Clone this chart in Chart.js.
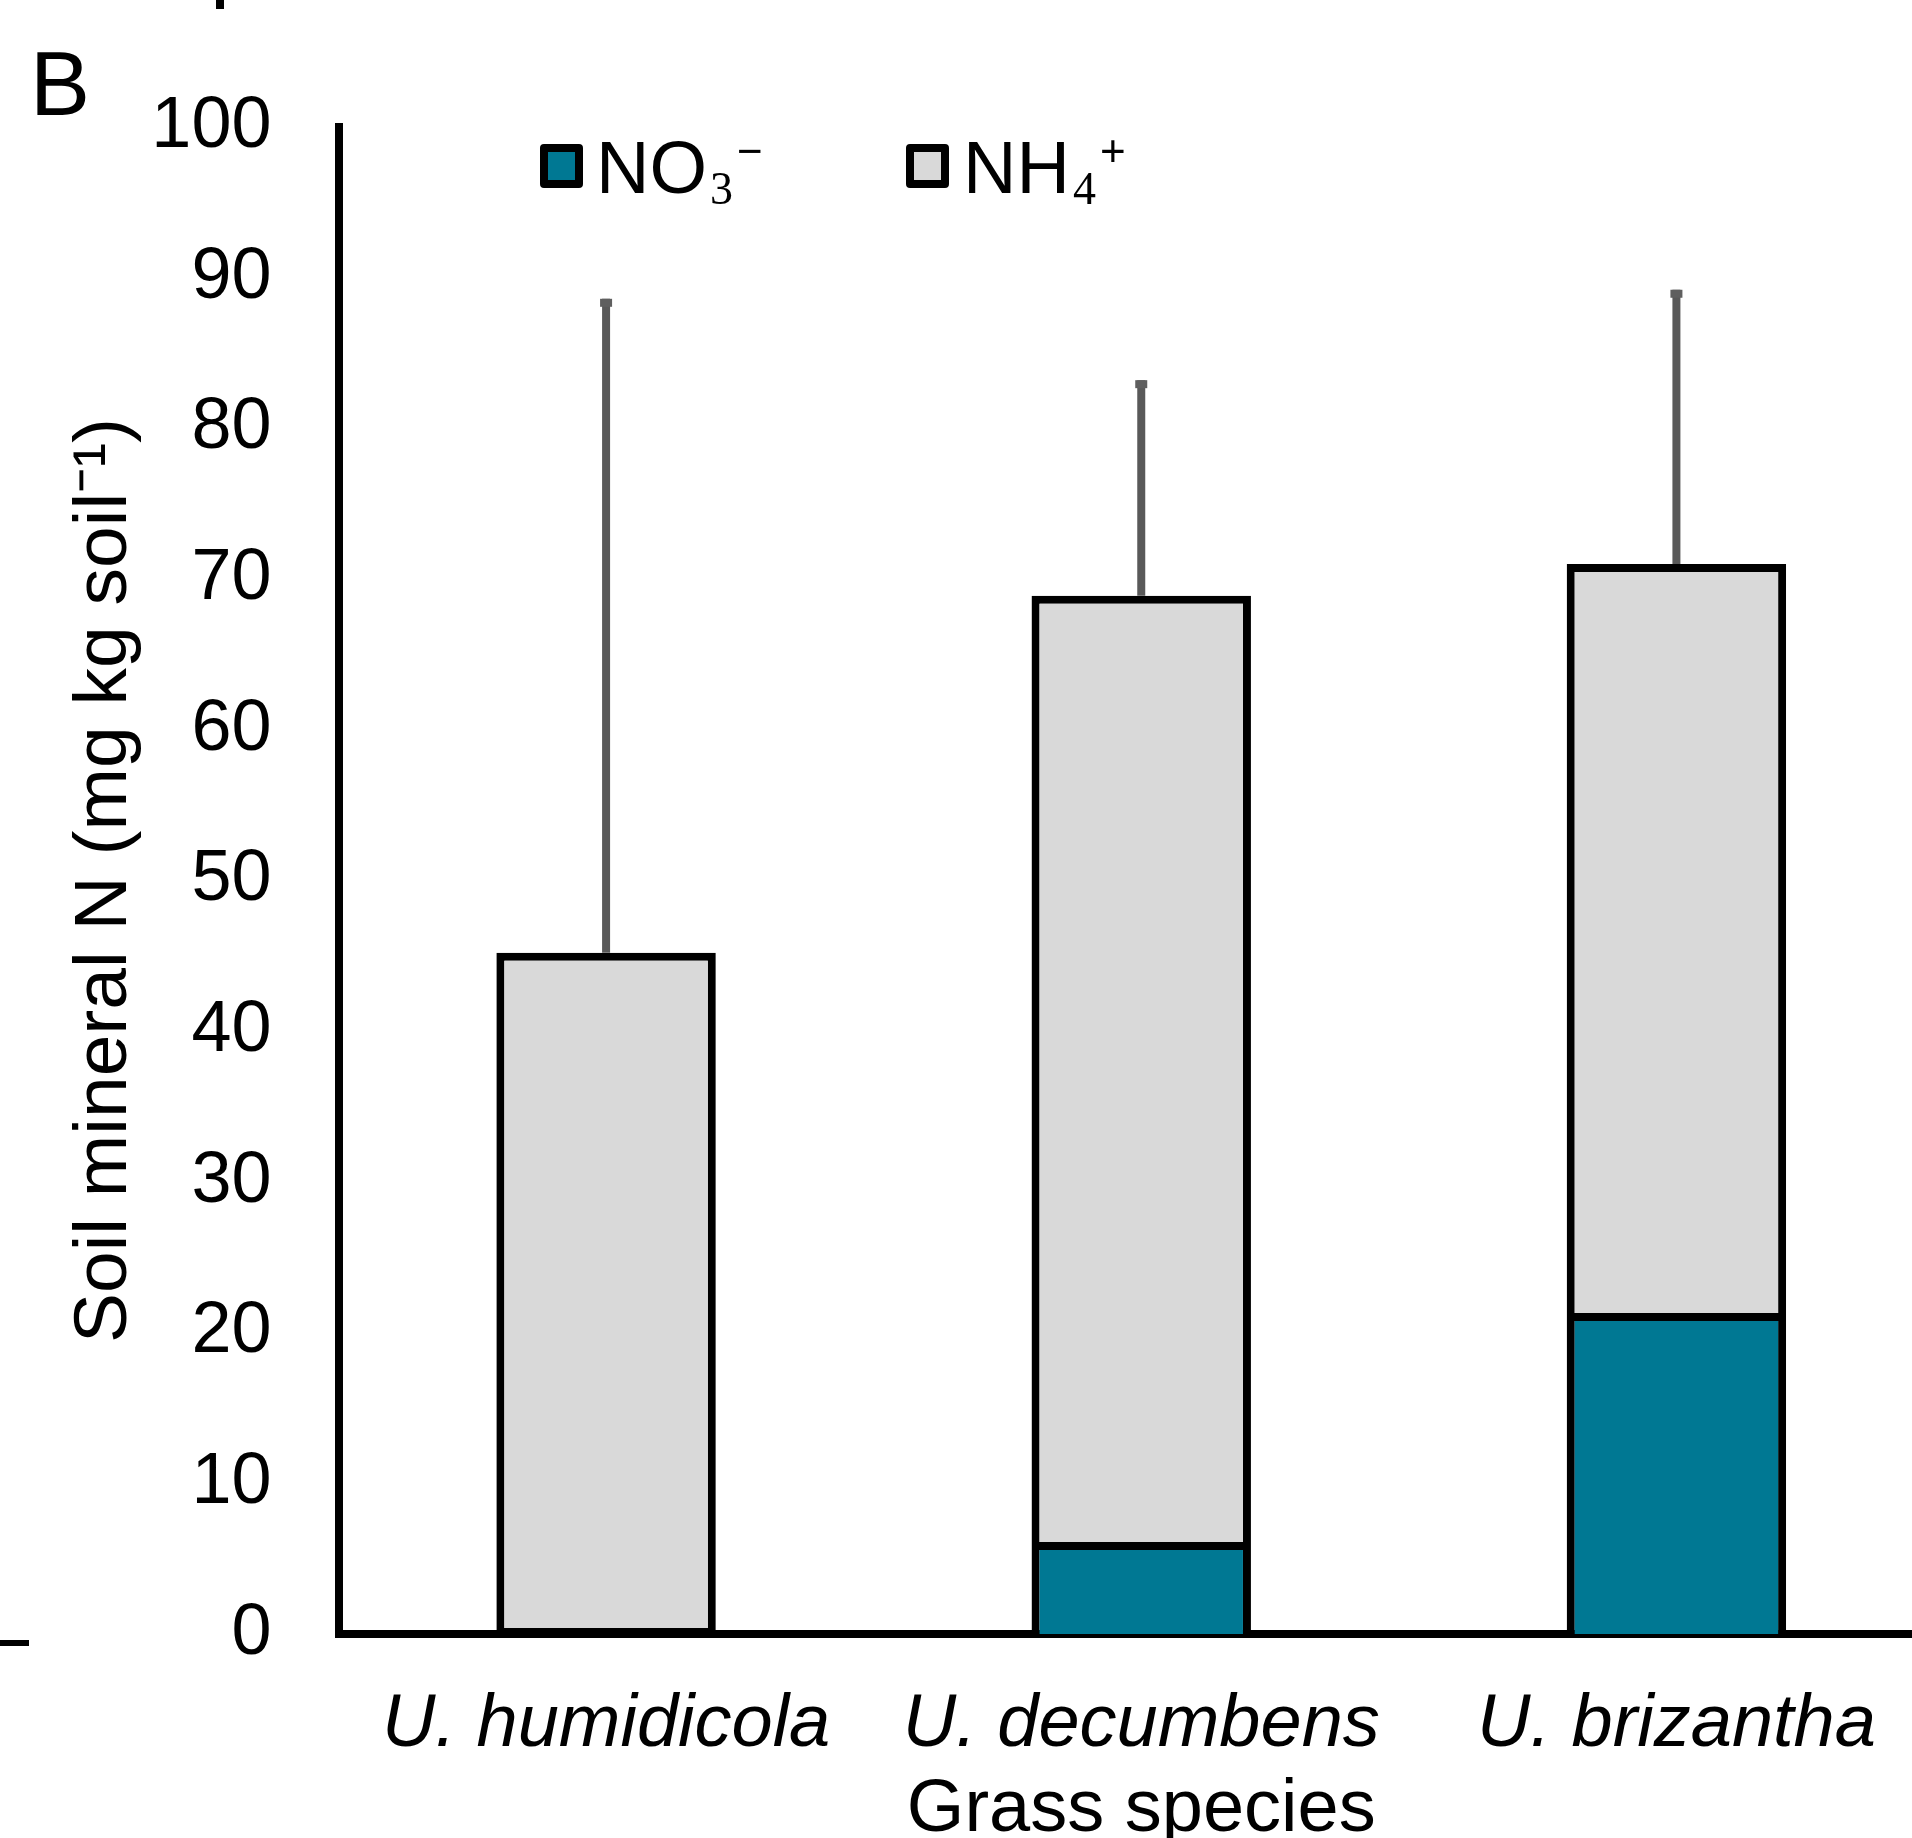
<!DOCTYPE html>
<html>
<head>
<meta charset="utf-8">
<title>Soil mineral N by grass species</title>
<script src="https://cdn.jsdelivr.net/npm/chart.js@4.4.1/dist/chart.umd.min.js"></script>
<style>
  html, body { margin: 0; padding: 0; background: #fff; overflow: hidden; }
  #wrap { width: 1912px; height: 1838px; overflow: hidden; }
</style>
</head>
<body>
<div id="wrap"><canvas id="chart" width="1944" height="1838"></canvas></div>
<script>
// values (mg kg soil-1)
const species = ['U. humidicola', 'U. decumbens', 'U. brizantha'];
const no3 = [0.4, 6.1, 21.3];
const nh4 = [44.8, 62.8, 49.7];
const totalSd = [43.4, 14.3, 18.2];   // error bar on the stacked total
const seriesLabels = ['NO₃⁻', 'NH₄⁺'];
const legendParts = [['NO', '3', '−'], ['NH', '4', '+']];
const yMin = 0, yMax = 100, yStep = 10;

const FAMILY = '"Liberation Sans", Arial, sans-serif';

const errorBars = {
  id: 'errorBars',
  afterDatasetsDraw(chart) {
    const { ctx, scales: { x, y } } = chart;
    ctx.save();
    species.forEach((name, i) => {
      const total = no3[i] + nh4[i];
      const px = x.getPixelForValue(i);
      const yBase = y.getPixelForValue(total);
      const yTop = y.getPixelForValue(total + totalSd[i]);
      ctx.strokeStyle = '#595959';
      ctx.lineWidth = 8;
      ctx.beginPath();
      ctx.moveTo(px, yBase);
      ctx.lineTo(px, yTop);
      ctx.stroke();
      ctx.fillStyle = '#5f5f5f';
      ctx.fillRect(px - 6, yTop, 12, 8);
    });
    ctx.restore();
  }
};

// legend with real sub/superscripts, panel letter and the crop marks
const panelExtras = {
  id: 'panelExtras',
  afterDraw(chart) {
    const { ctx, chartArea } = chart;
    ctx.save();
    ctx.fillStyle = '#000';
    ctx.font = '90px ' + FAMILY;
    ctx.textBaseline = 'alphabetic';
    ctx.fillText('B', 30, 115);
    ctx.fillRect(216, 0, 8, 9);
    ctx.fillRect(0, 1640, 29, 6);

    const boxX = [205.5, 571.5];
    const textX = [257.5, 624.5];
    chart.data.datasets.forEach((ds, i) => {
      const bx = chartArea.left + boxX[i];
      const by = chartArea.top + 21;
      ctx.fillStyle = ds.backgroundColor;
      ctx.fillRect(bx, by, 35, 36);
      ctx.lineWidth = 8;
      ctx.lineJoin = 'round';
      ctx.strokeStyle = '#000';
      ctx.strokeRect(bx, by, 35, 36);

      const [base, sub, sup] = legendParts[i];
      const base_y = chartArea.top + 66;
      let tx = chartArea.left + textX[i];
      ctx.fillStyle = '#000';
      ctx.font = '74px ' + FAMILY;
      ctx.fillText(base, tx, base_y);
      tx += ctx.measureText(base).width + 3;
      ctx.font = '46px "Liberation Serif", "DejaVu Serif", serif';
      ctx.fillText(sub, tx, base_y + 11);
      tx += ctx.measureText(sub).width + 4;
      ctx.font = '44px ' + FAMILY;
      ctx.fillText(sup, tx, base_y - 27);
    });
    ctx.restore();
  }
};

new Chart(document.getElementById('chart'), {
  type: 'bar',
  data: {
    labels: species,
    datasets: [
      {
        label: seriesLabels[0],
        data: no3,
        backgroundColor: '#007893',
        borderColor: '#000',
        borderWidth: 8,
        // a sliver this thin shows only as outline, as in the figure
        borderSkipped: (c) => (c.raw < 1 ? false : 'start'),
        categoryPercentage: 1,
        barPercentage: 0.41
      },
      {
        label: seriesLabels[1],
        data: nh4,
        backgroundColor: '#d9d9d9',
        borderColor: '#000',
        borderWidth: 8,
        categoryPercentage: 1,
        barPercentage: 0.41
      }
    ]
  },
  options: {
    responsive: false,
    animation: false,
    devicePixelRatio: 1,
    layout: { padding: { top: 127, left: 68, right: 0, bottom: 0 } },
    plugins: {
      legend: { display: false },
      tooltip: { enabled: false }
    },
    scales: {
      x: {
        stacked: true,
        z: 1,
        grid: { display: false, drawTicks: false },
        border: { display: true, color: '#000', width: 8 },
        ticks: {
          color: '#000',
          padding: 54,
          maxRotation: 0,
          autoSkip: false,
          font: { family: FAMILY, size: 74, style: 'italic', lineHeight: 1 }
        },
        title: {
          display: true,
          text: 'Grass species',
          color: '#000',
          padding: 0,
          font: { family: FAMILY, size: 74, lineHeight: 0.73 }
        },
        afterFit(scale) { scale.height = 204; }
      },
      y: {
        stacked: true,
        z: 1,
        min: yMin,
        max: yMax,
        grid: { display: false, drawTicks: false },
        border: { display: true, color: '#000', width: 8 },
        ticks: {
          stepSize: yStep,
          color: '#000',
          padding: 67,
          font: { family: FAMILY, size: 72, lineHeight: 1 }
        },
        title: {
          display: true,
          text: 'Soil mineral N (mg kg soil⁻¹)',
          color: '#000',
          padding: 0,
          font: { family: FAMILY, size: 75, lineHeight: 1 }
        },
        afterFit(scale) { scale.width = 270.5; }
      }
    }
  },
  plugins: [errorBars, panelExtras]
});
</script>
</body>
</html>
